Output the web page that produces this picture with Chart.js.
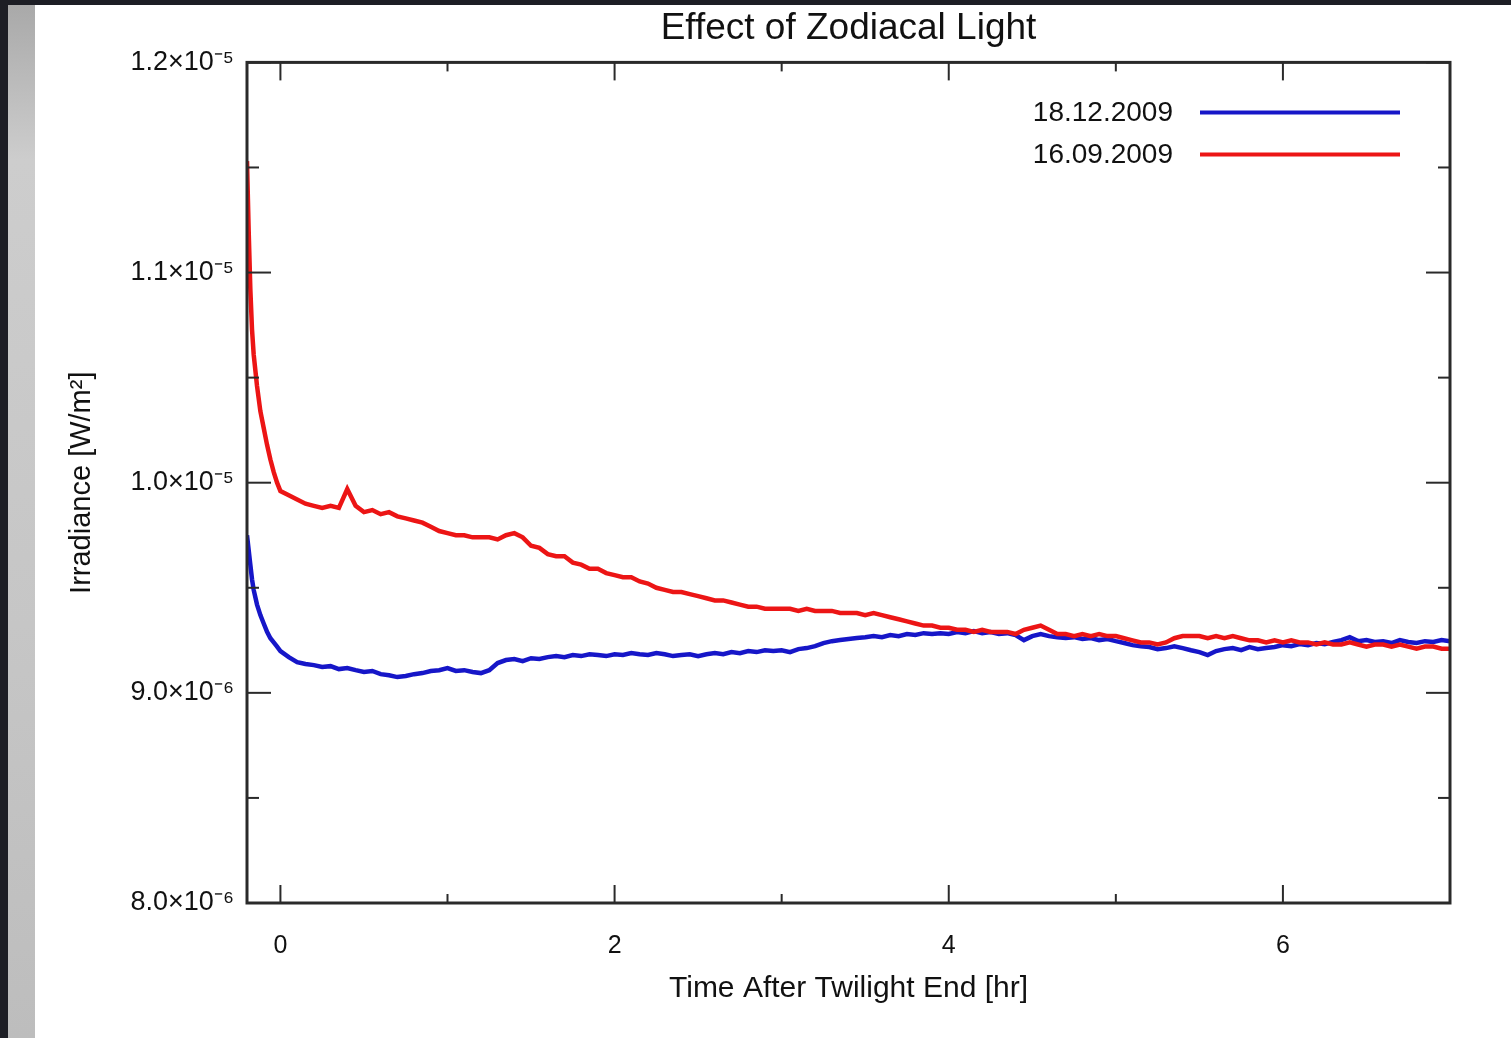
<!DOCTYPE html>
<html lang="en">
<head>
    <meta charset="UTF-8">
    <title>Effect of Zodiacal Light</title>
    <script src="https://cdn.jsdelivr.net/npm/chart.js"></script>
    <style>
        body {
            margin: 0;
            background-color: #1d1e25;
            overflow: hidden;
        }
        #strip {
            position: absolute;
            left: 8px;
            top: 5px;
            width: 27px;
            height: 1033px;
            background: linear-gradient(to bottom, #a9a9a9, #cdcdcd 15%, #c6c6c6 60%, #bdbdbd);
        }
        #page {
            position: absolute;
            left: 35px;
            top: 5px;
            width: 1476px;
            height: 1033px;
            background: #fff;
        }
    </style>
</head>
<body>
    <div id="strip"></div>
    <div id="page">
        <canvas id="zodiacChart" width="1476" height="1033"></canvas>
    </div>

    <script>
        // irradiance values are in units of 1e-6 W/m^2
        const timeHr = [-0.2, -0.19, -0.18, -0.17, -0.16, -0.14, -0.12, -0.1, -0.08, -0.06, -0.04, -0.02, 0,
            0.05, 0.1, 0.15, 0.2, 0.25, 0.3, 0.35, 0.4, 0.45, 0.5, 0.55, 0.6, 0.65, 0.7, 0.75, 0.8, 0.85, 0.9, 0.95, 1.0,
            1.05, 1.1, 1.15, 1.2, 1.25, 1.3, 1.35, 1.4, 1.45, 1.5, 1.55, 1.6, 1.65, 1.7, 1.75, 1.8, 1.85, 1.9, 1.95, 2.0,
            2.05, 2.1, 2.15, 2.2, 2.25, 2.3, 2.35, 2.4, 2.45, 2.5, 2.55, 2.6, 2.65, 2.7, 2.75, 2.8, 2.85, 2.9, 2.95, 3.0,
            3.05, 3.1, 3.15, 3.2, 3.25, 3.3, 3.35, 3.4, 3.45, 3.5, 3.55, 3.6, 3.65, 3.7, 3.75, 3.8, 3.85, 3.9, 3.95, 4.0,
            4.05, 4.1, 4.15, 4.2, 4.25, 4.3, 4.35, 4.4, 4.45, 4.5, 4.55, 4.6, 4.65, 4.7, 4.75, 4.8, 4.85, 4.9, 4.95, 5.0,
            5.05, 5.1, 5.15, 5.2, 5.25, 5.3, 5.35, 5.4, 5.45, 5.5, 5.55, 5.6, 5.65, 5.7, 5.75, 5.8, 5.85, 5.9, 5.95, 6.0,
            6.05, 6.1, 6.15, 6.2, 6.25, 6.3, 6.35, 6.4, 6.45, 6.5, 6.55, 6.6, 6.65, 6.7, 6.75, 6.8, 6.85, 6.9, 6.95, 7.0];

        const dec18 = [9.75, 9.68, 9.61, 9.54, 9.49, 9.42, 9.37, 9.33, 9.29, 9.26, 9.24, 9.22, 9.199,
            9.170, 9.146, 9.137, 9.132, 9.123, 9.127, 9.113, 9.118, 9.108, 9.099, 9.104, 9.089, 9.084, 9.075, 9.080, 9.089, 9.094, 9.104, 9.108, 9.118,
            9.104, 9.108, 9.099, 9.094, 9.108, 9.142, 9.156, 9.161, 9.151, 9.165, 9.161, 9.170, 9.175, 9.170, 9.180, 9.175, 9.184, 9.180, 9.175, 9.184,
            9.180, 9.189, 9.184, 9.180, 9.189, 9.184, 9.175, 9.180, 9.184, 9.175, 9.184, 9.189, 9.184, 9.194, 9.189, 9.199, 9.194, 9.203, 9.199, 9.203,
            9.194, 9.208, 9.213, 9.222, 9.237, 9.246, 9.251, 9.256, 9.261, 9.265, 9.270, 9.265, 9.275, 9.270, 9.280, 9.275, 9.284, 9.280, 9.284, 9.280,
            9.289, 9.284, 9.294, 9.284, 9.289, 9.280, 9.284, 9.275, 9.251, 9.270, 9.280, 9.270, 9.265, 9.261, 9.265, 9.256, 9.261, 9.251, 9.256, 9.246,
            9.237, 9.227, 9.222, 9.218, 9.208, 9.213, 9.222, 9.213, 9.203, 9.194, 9.180, 9.199, 9.208, 9.213, 9.203, 9.218, 9.208, 9.213, 9.218, 9.227,
            9.222, 9.232, 9.227, 9.237, 9.232, 9.242, 9.251, 9.265, 9.246, 9.251, 9.242, 9.246, 9.237, 9.251, 9.242, 9.237, 9.246, 9.242, 9.251, 9.246];

        const sep16 = [11.53, 11.20, 10.92, 10.73, 10.61, 10.46, 10.34, 10.26, 10.18, 10.11, 10.05, 10.00, 9.96,
            9.94, 9.92, 9.90, 9.89, 9.88, 9.89, 9.88, 9.97, 9.89, 9.86, 9.87, 9.85, 9.86, 9.84, 9.83, 9.82, 9.81, 9.79, 9.77, 9.76,
            9.75, 9.75, 9.74, 9.74, 9.74, 9.73, 9.75, 9.76, 9.74, 9.70, 9.69, 9.66, 9.65, 9.65, 9.62, 9.61, 9.59, 9.59, 9.57, 9.56,
            9.55, 9.55, 9.53, 9.52, 9.50, 9.49, 9.48, 9.48, 9.47, 9.46, 9.45, 9.44, 9.44, 9.43, 9.42, 9.41, 9.41, 9.40, 9.40, 9.40,
            9.40, 9.39, 9.40, 9.39, 9.39, 9.39, 9.38, 9.38, 9.38, 9.37, 9.38, 9.37, 9.36, 9.35, 9.34, 9.33, 9.32, 9.32, 9.31, 9.31,
            9.30, 9.30, 9.29, 9.30, 9.29, 9.29, 9.29, 9.28, 9.30, 9.31, 9.32, 9.30, 9.28, 9.28, 9.27, 9.28, 9.27, 9.28, 9.27, 9.27,
            9.26, 9.25, 9.24, 9.24, 9.23, 9.24, 9.26, 9.27, 9.27, 9.27, 9.26, 9.27, 9.26, 9.27, 9.26, 9.25, 9.25, 9.24, 9.25, 9.24,
            9.25, 9.24, 9.24, 9.23, 9.24, 9.23, 9.23, 9.24, 9.23, 9.22, 9.23, 9.23, 9.22, 9.23, 9.22, 9.21, 9.22, 9.22, 9.21, 9.21];

        const seriesLabels = ['18.12.2009', '16.09.2009'];
        const seriesColors = ['#1616c8', '#ec1515'];

        const xTickValues = [0, 2, 4, 6];
        const xMinorTicks = [1, 3, 5];
        const yTickValues = [8, 9, 10, 11, 12];
        const yTickLabels = ['8.0×10⁻⁶', '9.0×10⁻⁶', '1.0×10⁻⁵', '1.1×10⁻⁵', '1.2×10⁻⁵'];
        const yMinorTicks = [8.5, 9.5, 10.5, 11.5];

        const fontFamily = "'Liberation Sans', Arial, sans-serif";

        // frame, inward tick marks and the in-plot legend
        const framePlugin = {
            id: 'framePlugin',
            afterDatasetsDraw(chart) {
                const { ctx, chartArea: a, scales: { x, y } } = chart;
                ctx.save();
                ctx.strokeStyle = '#2a2a2a';
                ctx.lineWidth = 2;
                const seg = (x1, y1, x2, y2) => {
                    ctx.beginPath();
                    ctx.moveTo(x1, y1);
                    ctx.lineTo(x2, y2);
                    ctx.stroke();
                };
                xTickValues.forEach(v => {
                    const px = x.getPixelForValue(v);
                    seg(px, a.bottom, px, a.bottom - 18);
                    seg(px, a.top, px, a.top + 18);
                });
                xMinorTicks.forEach(v => {
                    const px = x.getPixelForValue(v);
                    seg(px, a.bottom, px, a.bottom - 9);
                    seg(px, a.top, px, a.top + 9);
                });
                yTickValues.forEach(v => {
                    const py = y.getPixelForValue(v);
                    seg(a.left, py, a.left + 24, py);
                    seg(a.right, py, a.right - 24, py);
                });
                yMinorTicks.forEach(v => {
                    const py = y.getPixelForValue(v);
                    seg(a.left, py, a.left + 12, py);
                    seg(a.right, py, a.right - 12, py);
                });

                ctx.lineWidth = 3;
                ctx.strokeRect(a.left, a.top, a.right - a.left, a.bottom - a.top);

                // legend
                ctx.font = '28px ' + fontFamily;
                ctx.textAlign = 'right';
                ctx.textBaseline = 'middle';
                chart.data.datasets.forEach((ds, i) => {
                    const ly = a.top + 50 + i * 42;
                    ctx.fillStyle = '#111';
                    ctx.fillText(ds.label, a.right - 277, ly + 1);
                    ctx.strokeStyle = ds.borderColor;
                    ctx.lineWidth = 4;
                    seg(a.right - 250, ly, a.right - 50, ly);
                });
                ctx.restore();
            }
        };

        const ctx = document.getElementById('zodiacChart').getContext('2d');
        new Chart(ctx, {
            type: 'line',
            data: {
                datasets: [
                    {
                        label: seriesLabels[0],
                        data: timeHr.map((t, i) => ({ x: t, y: dec18[i] })),
                        borderColor: seriesColors[0],
                        borderWidth: 4.5,
                        pointRadius: 0,
                        tension: 0,
                        fill: false,
                        order: 1
                    },
                    {
                        label: seriesLabels[1],
                        data: timeHr.map((t, i) => ({ x: t, y: sep16[i] })),
                        borderColor: seriesColors[1],
                        borderWidth: 4.5,
                        pointRadius: 0,
                        tension: 0,
                        fill: false,
                        order: 0
                    }
                ]
            },
            options: {
                responsive: false,
                animation: false,
                layout: { padding: { left: 0, right: 61, top: 0, bottom: 0 } },
                plugins: {
                    legend: { display: false },
                    tooltip: { enabled: false },
                    title: {
                        display: true,
                        text: 'Effect of Zodiacal Light',
                        fullSize: false,
                        color: '#111',
                        font: { family: fontFamily, size: 37, weight: 'normal' },
                        padding: { top: 2, bottom: 11 }
                    }
                },
                scales: {
                    x: {
                        type: 'linear',
                        min: -0.2,
                        max: 7,
                        afterBuildTicks: scale => { scale.ticks = xTickValues.map(v => ({ value: v })); },
                        afterFit: scale => { scale.height = 135; },
                        ticks: {
                            color: '#111',
                            padding: 28,
                            maxRotation: 0,
                            font: { family: fontFamily, size: 25 },
                            callback: v => String(v)
                        },
                        grid: { display: false, drawTicks: false },
                        border: { display: false },
                        title: {
                            display: true,
                            text: 'Time After Twilight End [hr]',
                            color: '#111',
                            font: { family: fontFamily, size: 30 },
                            padding: { top: 0, bottom: 31 }
                        }
                    },
                    y: {
                        type: 'linear',
                        min: 8,
                        max: 12,
                        afterBuildTicks: scale => { scale.ticks = yTickValues.map(v => ({ value: v })); },
                        afterFit: scale => { scale.width = 212; },
                        ticks: {
                            color: '#111',
                            padding: 13,
                            font: { family: fontFamily, size: 27 },
                            callback: (v, i) => yTickLabels[i]
                        },
                        grid: { display: false, drawTicks: false },
                        border: { display: false },
                        title: {
                            display: true,
                            text: 'Irradiance [W/m²]',
                            color: '#111',
                            font: { family: fontFamily, size: 29 },
                            padding: { top: 30, bottom: 0 }
                        }
                    }
                }
            },
            plugins: [framePlugin]
        });
    </script>
</body>
</html>
